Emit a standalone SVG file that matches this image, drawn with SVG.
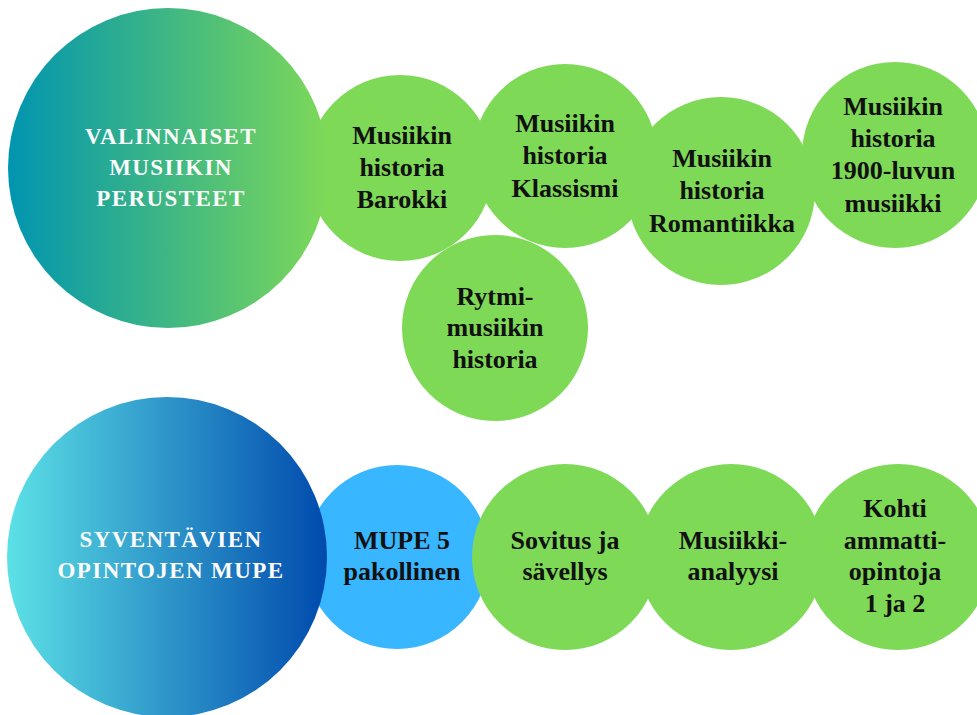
<svg xmlns="http://www.w3.org/2000/svg" width="977" height="715" viewBox="0 0 977 715">
<defs>
<linearGradient id="gTop" x1="0" y1="0" x2="1" y2="0">
<stop offset="0" stop-color="#0095B0"/>
<stop offset="1" stop-color="#7ED957"/>
</linearGradient>
<linearGradient id="gBot" x1="0" y1="0" x2="1" y2="0">
<stop offset="0" stop-color="#5CE1E6"/>
<stop offset="1" stop-color="#004AAD"/>
</linearGradient>
<style>
.g{fill:#7ED957}
.b{fill:#38B6FF}
.t{font-family:"Liberation Serif","DejaVu Serif",serif;font-weight:bold;font-size:26px;fill:#111;text-anchor:middle}
.h{font-family:"Liberation Serif","DejaVu Serif",serif;font-weight:bold;font-size:23px;fill:#fafafa;text-anchor:middle;letter-spacing:1.4px}
</style>
</defs>
<rect width="977" height="715" fill="#ffffff"/>

<g id="barokki"><circle class="g" cx="400" cy="168" r="93"/>
<text class="t" x="402" y="144">Musiikin</text><text class="t" x="402" y="176">historia</text><text class="t" x="402" y="208">Barokki</text></g>
<g id="klassismi"><circle class="g" cx="565" cy="156" r="92"/>
<text class="t" x="565" y="132">Musiikin</text><text class="t" x="565" y="164">historia</text><text class="t" x="565" y="197">Klassismi</text></g>
<g id="rytmi"><circle class="g" cx="495" cy="328" r="93"/>
<text class="t" x="495" y="305">Rytmi-</text><text class="t" x="495" y="336">musiikin</text><text class="t" x="495" y="368">historia</text></g>
<g id="romantiikka"><circle class="g" cx="721" cy="191" r="94"/>
<text class="t" x="722" y="167">Musiikin</text><text class="t" x="722" y="199">historia</text><text class="t" x="722" y="232">Romantiikka</text></g>
<g id="musiikki1900"><circle class="g" cx="895" cy="155" r="93"/>
<text class="t" x="893" y="115">Musiikin</text><text class="t" x="893" y="147">historia</text><text class="t" x="893" y="179">1900-luvun</text><text class="t" x="893" y="212">musiikki</text></g>

<g id="mupe5"><circle class="b" cx="397" cy="557" r="92"/>
<text class="t" x="402" y="549">MUPE 5</text><text class="t" x="402" y="580">pakollinen</text></g>
<g id="sovitus"><circle class="g" cx="565" cy="557" r="93"/>
<text class="t" x="565" y="549">Sovitus ja</text><text class="t" x="565" y="580">sävellys</text></g>
<g id="analyysi"><circle class="g" cx="731" cy="557" r="93"/>
<text class="t" x="733" y="549">Musiikki-</text><text class="t" x="733" y="580">analyysi</text></g>
<g id="kohti"><circle class="g" cx="898" cy="557" r="93"/>
<text class="t" x="895" y="517">Kohti</text><text class="t" x="895" y="549">ammatti-</text><text class="t" x="895" y="580">opintoja</text><text class="t" x="895" y="612">1 ja 2</text></g>

<g id="valinnaiset"><circle cx="168" cy="168" r="160" fill="url(#gTop)"/>
<text class="h" x="171" y="144">VALINNAISET</text><text class="h" x="171" y="175">MUSIIKIN</text><text class="h" x="171" y="206">PERUSTEET</text></g>
<g id="syventavien"><circle cx="167" cy="557" r="160" fill="url(#gBot)"/>
<text class="h" x="171" y="547">SYVENTÄVIEN</text><text class="h" x="171" y="578">OPINTOJEN MUPE</text></g>
</svg>
